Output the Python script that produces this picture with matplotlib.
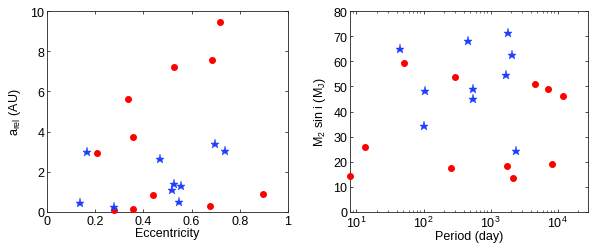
import matplotlib
matplotlib.use("Agg")
import matplotlib.pyplot as plt
from matplotlib.ticker import LogLocator, FixedLocator

plt.rcParams['font.family'] = ['Liberation Sans', 'DejaVu Sans']
plt.rcParams['mathtext.fontset'] = 'custom'
plt.rcParams['mathtext.rm'] = 'Liberation Sans'
plt.rcParams['mathtext.it'] = 'Liberation Sans'

# Left panel: eccentricity vs a_rel
ecc_red = [0.717, 0.685, 0.526, 0.337, 0.356, 0.207, 0.438, 0.898, 0.677, 0.276, 0.358]
arel_red = [9.44, 7.55, 7.23, 5.62, 3.71, 2.94, 0.85, 0.90, 0.30, 0.10, 0.13]
ecc_blue = [0.167, 0.137, 0.276, 0.467, 0.526, 0.517, 0.558, 0.547, 0.697, 0.738]
arel_blue = [2.99, 0.46, 0.25, 2.64, 1.38, 1.11, 1.31, 0.51, 3.37, 3.05]

# Right panel: period vs M2 sin i
per_red = [8.0, 13.6, 51.7, 296, 255, 1775, 2183, 4600, 7130, 8280, 12080]
msini_red = [14.5, 25.7, 59.3, 53.6, 17.5, 18.2, 13.5, 50.8, 48.9, 19.2, 46.2]
per_blue = [45, 106, 102, 458, 557, 545, 1837, 2109, 1694, 2393]
msini_blue = [64.7, 48.0, 34.1, 68.0, 48.8, 45.0, 71.1, 62.3, 54.6, 24.4]

W, H = 598, 251
fig = plt.figure(figsize=(W/100, H/100), dpi=100)
ax1 = fig.add_axes([47/W, 1-213/H, (288-47)/W, (213-12)/H])
ax2 = fig.add_axes([350/W, 1-213/H, (588-350)/W, (213-12)/H])

red = '#ff0000'
blue = '#1f3fff'
fs = 9

for ax in (ax1, ax2):
    for s in ax.spines.values():
        s.set_linewidth(0.6)
        s.set_color('#222222')
    ax.tick_params(direction='in', top=True, right=True, labelsize=fs,
                   length=2.5, width=0.5, pad=2)
    ax.tick_params(which='minor', direction='in', top=True, right=True,
                   length=1.5, width=0.4)

ax1.plot(ecc_red, arel_red, 'o', color=red, ms=4, mec=red, clip_on=False, zorder=3)
ax1.plot(ecc_blue, arel_blue, '*', color=blue, ms=6.5, mec=blue, mew=0.3, clip_on=False, zorder=3)
ax1.set_xlim(0, 1)
ax1.set_ylim(0, 10)
ax1.set_xticks([0, 0.2, 0.4, 0.6, 0.8, 1])
ax1.set_xticklabels(['0', '0.2', '0.4', '0.6', '0.8', '1'])
ax1.set_yticks([0, 2, 4, 6, 8, 10])
ax1.set_xlabel('Eccentricity', fontsize=fs, labelpad=0)
ax1.set_ylabel(r'a$_{\rm rel}$ (AU)', fontsize=fs, labelpad=5)

ax2.plot(per_red, msini_red, 'o', color=red, ms=4, mec=red, clip_on=False, zorder=3)
ax2.plot(per_blue, msini_blue, '*', color=blue, ms=6.5, mec=blue, mew=0.3, clip_on=False, zorder=3)
ax2.set_xscale('log')
ax2.set_xlim(8, 2.85e4)
ax2.set_ylim(0, 80)
ax2.set_yticks(range(0, 81, 10))
ax2.xaxis.set_major_locator(FixedLocator([10, 100, 1000, 10000]))
ax2.xaxis.set_minor_locator(LogLocator(base=10, subs=range(2, 10)))
ax2.set_xlabel('Period (day)', fontsize=fs, labelpad=0)
ax2.set_ylabel(r'M$_2$ sin i (M$_{\rm J}$)', fontsize=fs, labelpad=4)

fig.savefig('out.png', dpi=100)
